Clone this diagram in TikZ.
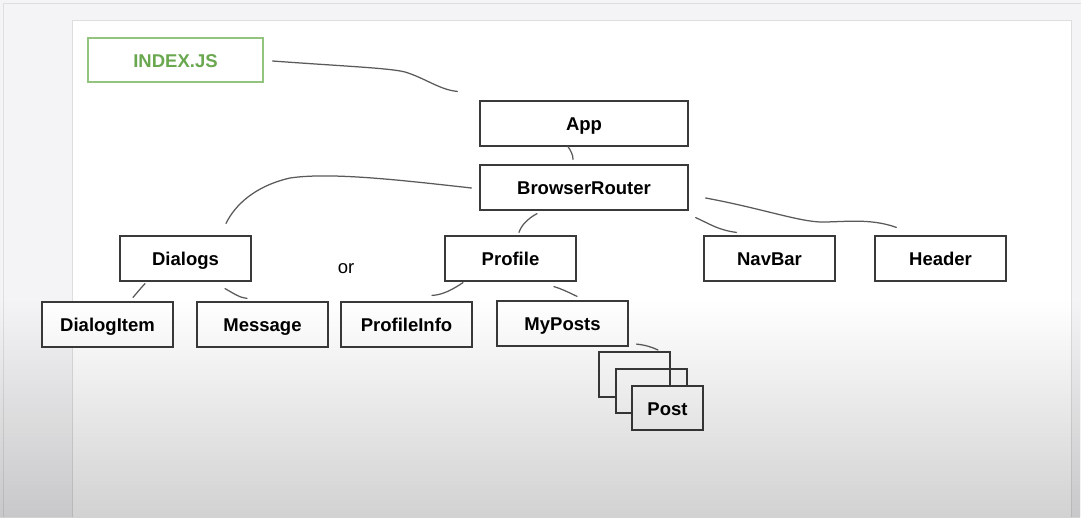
\documentclass[tikz,border=0pt]{standalone}
\usepackage{fontspec}
\setmainfont{Liberation Sans}
\usetikzlibrary{calc,fadings}
\definecolor{outerbg}{HTML}{F4F4F6}
\definecolor{edgegray}{HTML}{DEDEE0}
\definecolor{boxline}{HTML}{3A3A3A}
\definecolor{linkgray}{HTML}{5A5A5A}
\definecolor{jsgreen}{HTML}{6AA84F}
\definecolor{jsframe}{HTML}{93C47D}
\tikzfading[name=darkbottom, top color=transparent!100, bottom color=transparent!0]
\tikzset{
  comp/.style={draw=boxline, line width=1.2pt, fill=white, inner sep=0pt,
    text height=14pt, text depth=0pt,
    font=\fontsize{18.5}{20}\selectfont\bfseries},
  wide/.style={comp, minimum width=208pt, minimum height=45pt},
  mid/.style={comp, minimum width=131pt, minimum height=45pt},
  link/.style={draw=linkgray, line width=1.25pt, line cap=round},
}
\begin{document}
\begin{tikzpicture}[x=1pt, y=-1pt]
\useasboundingbox (0,0) rectangle (1081,517);
% screen and page
\fill[outerbg] (0,0) rectangle (1081,517);
\draw[edgegray, line width=0.8pt] (3,517) -- (3,3) -- (1081,3);
\fill[white] (72,20) rectangle (1071,517);
\draw[edgegray, line width=1pt] (72,517) -- (72,20) -- (1071,20) -- (1071,517);

% entry point
\node[comp, draw=jsframe, text=jsgreen, minimum width=175pt, minimum height=44pt] (index) at (175.5,60) {INDEX.JS};

% component tree
\node[wide] (app) at (584,123.5) {App};
\node[wide] (router) at (584,187.5) {BrowserRouter};
\node[mid] (dialogs) at (185.5,258.5) {Dialogs};
\node[mid] (profile) at (510.5,258.5) {Profile};
\node[mid] (navbar) at (769.5,258.5) {NavBar};
\node[mid] (header) at (940.5,258.5) {Header};
\node[mid] (dialogitem) at (107.5,324.5) {DialogItem};
\node[mid] (message) at (262.5,324.5) {Message};
\node[mid] (profileinfo) at (406.5,324.5) {ProfileInfo};
\node[mid] (myposts) at (562.5,323.5) {MyPosts};
\node[font=\fontsize{18.5}{20}\selectfont, text height=14pt, text depth=0pt, inner sep=0pt] (or) at (346,266) {or};

% stacked posts
\coordinate (stack) at (599,352);
\draw[boxline, line width=1.2pt] (616,397) -- (599,397) -- (stack) -- (670,352) -- (670,386);
\draw[boxline, line width=1.2pt] (632,413) -- (616,413) -- (616,369) -- (687,369) -- (687,386);
\node[comp, minimum width=71pt, minimum height=44pt] (post) at (667.5,408) {Post};

% hand-drawn links
\draw[link] ($(index.east)+(9,1)$) .. controls (340,66) and (390,68) .. (405,72)
  .. controls (425,78) and (440,90) .. ($(app.north west)+(-22,-9)$);
\draw[link] ($(app.south)+(-16,0)$) .. controls (571,151) and (573,155) .. ($(router.north)+(-11,-5)$);
\draw[link] ($(router.west)+(-8,0.5)$) .. controls (400,180) and (330,172) .. (290,178)
  .. controls (255,186) and (235,205) .. ($(dialogs.north)+(40.5,-12)$);
\draw[link] ($(router.south)+(-47,3)$) .. controls (527,219) and (521,226) .. ($(profile.north)+(8.5,-3)$);
\draw[link] ($(router.south east)+(7,7)$) .. controls (710,224) and (718,230) .. ($(navbar.north west)+(33,-3)$);
\draw[link] ($(router.east)+(17,10.5)$) .. controls (760,208) and (800,222) .. (822,222)
  .. controls (845,222) and (870,218) .. ($(header.north west)+(22,-8)$);
\draw[link] ($(dialogs.south)+(-40.5,2)$) .. controls (140,289) and (136,294) .. ($(dialogitem.north)+(25.5,-4)$);
\draw[link] ($(dialogs.south)+(39.5,7)$) .. controls (233,293) and (240,298) .. ($(message.north)+(-15.5,-3)$);
\draw[link] ($(profile.south)+(-47.5,1)$) .. controls (452,290) and (442,295) .. ($(profileinfo.north)+(25.5,-6)$);
\draw[link] ($(profile.south)+(43.5,5)$) .. controls (562,289) and (570,293) .. ($(myposts.north)+(14.5,-4)$);
\draw[link] ($(myposts.south east)+(8,-2.5)$) .. controls (645,345) and (652,347) .. ($(stack)+(59,-2)$);

% darkening towards the bottom edge
\fill[black, fill opacity=0.19, path fading=darkbottom] (0,300) rectangle (1081,530);
\end{tikzpicture}
\end{document}
